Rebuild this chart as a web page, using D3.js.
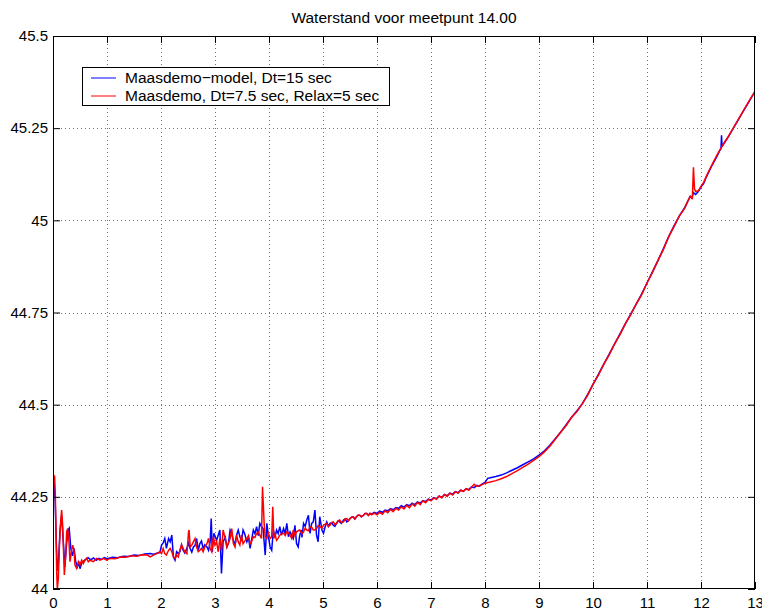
<!DOCTYPE html>
<html>
<head>
<meta charset="utf-8">
<script src="https://cdn.jsdelivr.net/npm/d3@7"></script>
<style>
  html, body { margin: 0; padding: 0; background: #fff; }
  svg { display: block; font-family: "Liberation Sans", Arial, Helvetica, sans-serif; }
</style>
</head>
<body>
<svg id="chart" width="762" height="610"></svg>
<script>
// ---------- data ----------
const chartTitle = "Waterstand voor meetpunt 14.00";
const seriesNames = ["Maasdemo\u2212model, Dt=15 sec", "Maasdemo, Dt=7.5 sec, Relax=5 sec"];
const seriesColors = ["#0000ff", "#ff0000"];
const xTicks = [0,1,2,3,4,5,6,7,8,9,10,11,12,13];
const yTicks = [44, 44.25, 44.5, 44.75, 45, 45.25, 45.5];

// shared smooth upper trajectory (both runs coincide), hand read
const upperX = [9.4,9.5,9.6,9.7,9.8,9.9,10.0,10.1,10.2,10.3,10.4,10.5,10.6,10.7,10.8,10.9,11.0,11.1,11.2,11.3,11.4,11.5,11.6,11.7,11.75];
const upperY = [44.425,44.445,44.465,44.483,44.502,44.527,44.555,44.582,44.61,44.637,44.665,44.692,44.72,44.746,44.773,44.8,44.83,44.86,44.89,44.922,44.955,44.985,45.012,45.035,45.05];

// blue run: Maasdemo-model, Dt=15 sec
const blueX = [0,0.005,0.02,0.04,0.06,0.08,0.10,0.13,0.16,0.19,0.22,0.25,0.28,0.30,0.33,0.36,0.39,0.42,0.45,0.48,0.50,0.53,0.56,0.60,0.65,0.70,0.75,0.80,0.85,0.90,0.95,1.0,1.1,1.2,1.3,1.4,1.5,1.6,1.7,
  1.80,1.86,1.92,1.98,2.01,2.04,2.07,2.10,2.14,2.17,2.20,2.23,2.26,2.29,2.32,2.35,2.41,2.48,2.54,2.60,2.66,2.72,2.78,2.85,2.91,2.93,2.95,2.98,3.03,3.09,3.12,3.15,3.22,3.28,3.34,3.40,3.46,3.52,3.59,3.65,3.71,3.77,3.83,3.89,3.93,3.96,3.99,
  4.02,4.05,4.08,4.14,4.20,4.23,4.27,4.33,4.36,4.39,4.42,4.45,4.48,4.51,4.54,4.57,4.60,4.64,4.70,4.73,4.76,4.79,4.82,4.85,4.88,4.91,4.94,4.98,5.01,5.04,5.07,5.13,5.19,5.25,5.31,5.38,5.44,5.50,5.56,5.62,5.68,5.75,5.81,5.87,
  5.90,5.95,6.00,6.05,6.10,6.15,6.20,6.25,6.30,6.35,6.40,6.45,6.50,6.55,6.60,6.65,6.70,6.75,6.80,6.85,6.90,6.95,7.00,7.05,7.10,7.15,7.20,7.25,7.30,7.35,7.40,7.45,7.50,7.55,7.60,7.65,7.70,7.75,7.80,7.85,7.90,7.95,8.00,8.05,8.10,8.2,8.3,8.4,8.5,8.6,8.7,8.8,8.9,9.0,9.1,9.2,9.27];
const blueY = [44.07,44.26,44.29,44.24,44.13,44.05,44.07,44.16,44.2,44.13,44.06,44.12,44.16,44.165,44.11,44.09,44.11,44.075,44.06,44.07,44.055,44.07,44.075,44.08,44.085,44.079,44.084,44.078,44.083,44.08,44.085,44.082,44.086,44.085,44.089,44.088,44.092,44.091,44.095,
  44.096,44.094,44.097,44.099,44.119,44.125,44.137,44.110,44.137,44.128,44.146,44.087,44.078,44.101,44.096,44.101,44.105,44.110,44.110,44.114,44.137,44.123,44.110,44.114,44.128,44.191,44.101,44.151,44.132,44.160,44.042,44.128,44.114,44.160,44.132,44.146,44.142,44.160,44.128,44.110,44.160,44.169,44.178,44.164,44.092,44.178,44.142,
  44.114,44.105,44.160,44.160,44.169,44.146,44.164,44.178,44.142,44.155,44.146,44.137,44.173,44.123,44.114,44.146,44.160,44.178,44.187,44.200,44.151,44.178,44.182,44.214,44.146,44.128,44.196,44.160,44.151,44.169,44.182,44.178,44.173,44.178,44.182,44.187,44.182,44.191,44.196,44.196,44.200,44.200,44.205,44.205,
  44.203,44.208,44.205,44.211,44.208,44.214,44.212,44.218,44.215,44.221,44.219,44.226,44.222,44.229,44.226,44.233,44.229,44.236,44.233,44.240,44.237,44.244,44.241,44.248,44.245,44.252,44.249,44.256,44.253,44.260,44.257,44.264,44.261,44.268,44.265,44.272,44.270,44.277,44.275,44.281,44.279,44.285,44.289,44.300,44.302,44.305,44.309,44.315,44.322,44.329,44.337,44.345,44.353,44.363,44.375,44.390,44.402];
// extra blue readings in the noisy stretch
const blueExtraX = [2.38,2.44,2.51,2.57,2.63,2.69,2.75,2.81,2.88,3.19,3.25,3.31,3.37,3.43,3.49,3.55,3.62,3.68,3.74,3.80,3.86,4.11,4.17,4.30,4.61,4.67,5.10,5.16,5.22,5.28,5.34,5.41,5.47,5.53,5.59,5.65,5.71,5.78,5.84];
const blueExtraY = [44.12,44.098,44.125,44.100,44.118,44.105,44.13,44.12,44.105,44.14,44.125,44.15,44.12,44.16,44.13,44.15,44.14,44.135,44.15,44.145,44.17,44.14,44.15,44.15,44.14,44.17,44.17,44.18,44.17,44.185,44.178,44.19,44.185,44.195,44.19,44.20,44.196,44.205,44.2];
const blueTailX = [11.8,11.83,11.86,11.9,11.95,12.0,12.05,12.1,12.2,12.3,12.35,12.37,12.38,12.39,12.4,12.5,12.6,12.7,12.8,12.9,13.0];
const blueTailY = [45.065,45.06,45.075,45.07,45.078,45.09,45.10,45.118,45.148,45.175,45.19,45.195,45.231,45.2,45.203,45.225,45.25,45.275,45.30,45.325,45.35];

// red run: Maasdemo, Dt=7.5 sec, Relax=5 sec
const redX = [0,0.004,0.03,0.043,0.056,0.068,0.08,0.099,0.117,0.142,0.16,0.179,0.191,0.21,0.235,0.253,0.272,0.296,0.315,0.34,0.364,0.389,0.407,0.438,0.469,0.5,0.531,0.562,0.593,0.623,0.654,0.685,0.747,0.809,0.87,0.932,0.994,1.056,1.15,1.25,1.35,1.45,1.55,1.65,1.75,
  1.80,1.86,1.92,1.98,2.01,2.04,2.07,2.10,2.14,2.17,2.20,2.23,2.26,2.29,2.32,2.35,2.38,2.41,2.44,2.48,2.51,2.52,2.54,2.57,2.60,2.63,2.66,2.69,2.72,2.75,2.78,2.81,2.85,2.88,2.91,2.94,2.97,3.00,3.03,3.06,3.09,3.12,3.15,3.19,3.22,3.28,3.31,3.34,3.37,3.40,3.43,3.46,3.49,3.52,3.59,3.65,3.71,3.77,3.83,3.86,3.88,3.91,3.93,3.96,3.99,
  4.02,4.05,4.07,4.09,4.14,4.20,4.27,4.33,4.39,4.42,4.45,4.51,4.57,4.64,4.70,4.76,4.82,4.88,4.94,5.01,5.07,5.13,5.19,5.25,5.31,5.38,5.44,5.50,5.56,5.62,5.68,5.75,5.81,5.87,
  5.90,5.95,6.00,6.05,6.10,6.15,6.20,6.25,6.30,6.35,6.40,6.45,6.50,6.55,6.60,6.65,6.70,6.75,6.80,6.85,6.90,6.95,7.00,7.05,7.10,7.15,7.20,7.25,7.30,7.35,7.40,7.45,7.50,7.55,7.60,7.65,7.70,7.75,7.80,7.85,7.90,7.95,8.00,8.1,8.2,8.3,8.4,8.5,8.6,8.7,8.8,8.9,9.0,9.1,9.2,9.27];
const redY = [44.08,44.31,44.305,44.255,44.155,44.047,44.0,44.029,44.11,44.182,44.214,44.173,44.119,44.038,44.092,44.155,44.164,44.128,44.074,44.101,44.119,44.105,44.065,44.056,44.074,44.065,44.078,44.069,44.078,44.083,44.074,44.078,44.074,44.083,44.078,44.083,44.078,44.083,44.082,44.087,44.086,44.09,44.089,44.093,44.092,
  44.087,44.092,44.096,44.101,44.096,44.110,44.096,44.092,44.105,44.110,44.101,44.087,44.083,44.092,44.087,44.105,44.119,44.110,44.101,44.096,44.155,44.160,44.114,44.119,44.128,44.137,44.114,44.101,44.105,44.110,44.101,44.114,44.123,44.137,44.110,44.101,44.142,44.119,44.128,44.101,44.137,44.105,44.160,44.137,44.114,44.137,44.164,44.123,44.114,44.146,44.128,44.119,44.146,44.123,44.137,44.123,44.142,44.151,44.146,44.137,44.277,44.178,44.142,44.137,44.151,
  44.137,44.142,44.223,44.137,44.132,44.146,44.151,44.155,44.146,44.137,44.160,44.155,44.160,44.155,44.160,44.169,44.160,44.164,44.169,44.173,44.178,44.173,44.182,44.178,44.187,44.182,44.191,44.191,44.196,44.196,44.200,44.200,44.205,44.205,
  44.201,44.206,44.201,44.208,44.203,44.212,44.207,44.216,44.210,44.219,44.214,44.223,44.217,44.227,44.220,44.231,44.225,44.235,44.229,44.239,44.234,44.243,44.239,44.247,44.243,44.252,44.247,44.256,44.251,44.260,44.255,44.264,44.260,44.268,44.265,44.272,44.268,44.276,44.284,44.278,44.281,44.283,44.287,44.290,44.294,44.299,44.305,44.313,44.321,44.330,44.339,44.349,44.359,44.372,44.387,44.400];
// extra red readings in the noisy stretch
const redExtraX = [3.25,3.55,3.62,3.68,3.74,3.80,4.11,4.17,4.23,4.30,4.36,4.48,4.54,4.61,4.67,4.73,4.79,4.85,4.91,4.98,5.04,5.10,5.16,5.22,5.28,5.34,5.41,5.47,5.53,5.59,5.65,5.71,5.78,5.84];
const redExtraY = [44.125,44.13,44.145,44.13,44.14,44.155,44.15,44.138,44.15,44.145,44.152,44.145,44.158,44.15,44.165,44.158,44.168,44.16,44.172,44.165,44.176,44.17,44.18,44.175,44.185,44.18,44.19,44.185,44.195,44.19,44.2,44.196,44.205,44.2];
const redTailX = [11.8,11.84,11.86,11.88,11.9,11.95,12.0,12.05,12.1,12.2,12.3,12.4,12.5,12.6,12.7,12.8,12.9,13.0];
const redTailY = [45.065,45.06,45.144,45.085,45.078,45.08,45.092,45.103,45.12,45.15,45.178,45.203,45.226,45.251,45.276,45.301,45.326,45.35];

// ---------- layout ----------
const plot = { left: 53, top: 36, right: 755, bottom: 589 };
const svg = d3.select("#chart");

const x = d3.scaleLinear().domain([0, 13]).range([plot.left, plot.right]);
const y = d3.scaleLinear().domain([44, 45.5]).range([plot.bottom, plot.top]);

// grid
const grid = svg.append("g").attr("stroke", "#000").attr("stroke-width", 1)
  .attr("stroke-dasharray", "1,3").attr("opacity", 0.55);
xTicks.slice(1, -1).forEach(t => {
  grid.append("line").attr("x1", Math.round(x(t)) + 0.5).attr("x2", Math.round(x(t)) + 0.5)
    .attr("y1", plot.top).attr("y2", plot.bottom);
});
yTicks.slice(1, -1).forEach(t => {
  grid.append("line").attr("y1", Math.round(y(t)) + 0.5).attr("y2", Math.round(y(t)) + 0.5)
    .attr("x1", plot.left).attr("x2", plot.right);
});

// clip
svg.append("defs").append("clipPath").attr("id", "clip")
  .append("rect").attr("x", plot.left).attr("y", plot.top)
  .attr("width", plot.right - plot.left).attr("height", plot.bottom - plot.top);

function zip(xs, ys) { return xs.map((v, i) => [v, ys[i]]); }
const byX = (a, b) => a[0] - b[0];
const blueData = zip(blueX, blueY).concat(zip(blueExtraX, blueExtraY)).sort(byX)
  .concat(zip(upperX, upperY)).concat(zip(blueTailX, blueTailY));
const redData = zip(redX, redY).concat(zip(redExtraX, redExtraY)).sort(byX)
  .concat(zip(upperX, upperY.map((v, i) => v - 0.002 * (i % 2)))).concat(zip(redTailX, redTailY));

const line = d3.line().x(d => x(d[0])).y(d => y(d[1]));
const lines = svg.append("g").attr("clip-path", "url(#clip)");
lines.append("path").datum(blueData).attr("d", line)
  .attr("fill", "none").attr("stroke", seriesColors[0]).attr("stroke-width", 1.5);
lines.append("path").datum(redData).attr("d", line)
  .attr("fill", "none").attr("stroke", seriesColors[1]).attr("stroke-width", 1.5);

// axes
const fmt = d3.format("~g");
const axB = svg.append("g").attr("transform", `translate(0,${plot.bottom})`)
  .call(d3.axisBottom(x).tickValues(xTicks).tickFormat(fmt).tickSizeInner(-7).tickSizeOuter(0).tickPadding(8));
const axL = svg.append("g").attr("transform", `translate(${plot.left},0)`)
  .call(d3.axisLeft(y).tickValues(yTicks).tickFormat(fmt).tickSizeInner(-7).tickSizeOuter(0).tickPadding(5));
const axT = svg.append("g").attr("transform", `translate(0,${plot.top})`)
  .call(d3.axisTop(x).tickValues(xTicks).tickFormat("").tickSizeInner(-7).tickSizeOuter(0));
const axR = svg.append("g").attr("transform", `translate(${plot.right},0)`)
  .call(d3.axisRight(y).tickValues(yTicks).tickFormat("").tickSizeInner(-7).tickSizeOuter(0));
[axB, axL, axT, axR].forEach(a => {
  a.select(".domain").remove();
  a.selectAll("text").attr("font-size", 15).attr("fill", "#000")
    .attr("font-family", "'Liberation Sans', Arial, Helvetica, sans-serif");
  a.selectAll("line").attr("stroke", "#000");
});

// box
svg.append("rect").attr("x", plot.left + 0.5).attr("y", plot.top + 0.5)
  .attr("width", plot.right - plot.left - 1).attr("height", plot.bottom - plot.top - 1)
  .attr("fill", "none").attr("stroke", "#000").attr("stroke-width", 1);

// title
svg.append("text").attr("x", (plot.left + plot.right) / 2).attr("y", 23)
  .attr("text-anchor", "middle").attr("font-size", 15.5).attr("fill", "#000").text(chartTitle);

// legend
const lg = svg.append("g");
lg.append("rect").attr("x", 82.5).attr("y", 67.5).attr("width", 307).attr("height", 38)
  .attr("fill", "#fff").attr("stroke", "#000").attr("stroke-width", 1);
seriesNames.forEach((name, i) => {
  const ly = 78 + i * 18;
  lg.append("line").attr("x1", 91).attr("x2", 116).attr("y1", ly).attr("y2", ly)
    .attr("stroke", seriesColors[i]).attr("stroke-width", 1);
  lg.append("text").attr("x", 125).attr("y", ly).attr("dy", "0.35em")
    .attr("font-size", 15.5).attr("fill", "#000").text(name);
});
</script>
</body>
</html>
